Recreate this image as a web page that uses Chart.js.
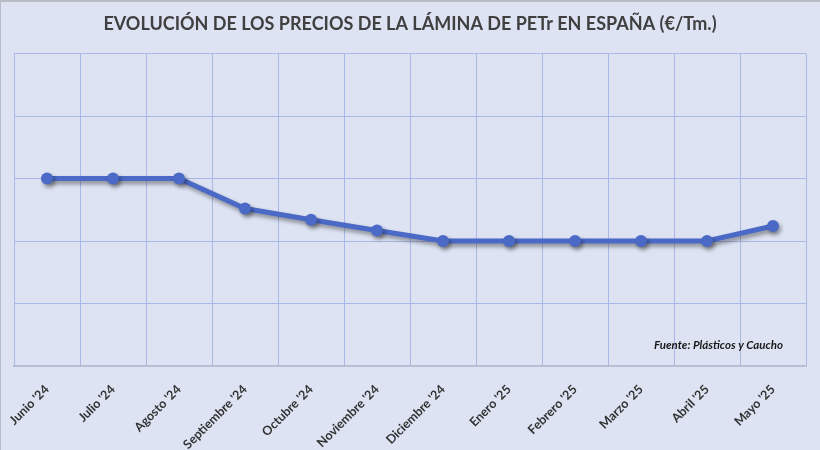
<!DOCTYPE html>
<html>
<head>
<meta charset="utf-8">
<script src="https://cdn.jsdelivr.net/npm/chart.js@4/dist/chart.umd.min.js"></script>
<style>
  html, body { margin: 0; padding: 0; background: #dde3f3; }
  #wrap { width: 820px; height: 450px; }
</style>
</head>
<body>
<div id="wrap"><canvas id="line-chart" width="820" height="450"></canvas></div>
<script>
const meses = ["Junio '24", "Julio '24", "Agosto '24", "Septiembre '24", "Octubre '24", "Noviembre '24",
  "Diciembre '24", "Enero '25", "Febrero '25", "Marzo '25", "Abril '25", "Mayo '25"]
// la imagen no trae escala en el eje Y: valores relativos a las 5 divisiones de la rejilla
const precios = [3, 3, 3, 2.52, 2.34, 2.17, 2, 2, 2, 2, 2, 2.24]
const escala_min = 0
const escala_max = 5

const fondo = {
  id: 'fondo',
  beforeDraw(chart) {
    const ctx = chart.ctx
    ctx.save()
    ctx.fillStyle = '#dde3f3'
    ctx.fillRect(0, 0, chart.width, chart.height)
    ctx.fillStyle = '#b9bcc4'
    ctx.fillRect(0, 0, chart.width, 2)
    ctx.fillRect(0, 0, 1, chart.height)
    ctx.restore()
  }
}

const sombra = {
  id: 'sombra',
  beforeDatasetDraw(chart) {
    const ctx = chart.ctx
    ctx.save()
    ctx.shadowColor = 'rgba(0, 0, 0, 0.4)'
    ctx.shadowBlur = 4
    ctx.shadowOffsetX = 2
    ctx.shadowOffsetY = 3
  },
  afterDatasetDraw(chart) {
    chart.ctx.restore()
  }
}

const fuente = {
  id: 'fuente',
  afterDraw(chart) {
    const ctx = chart.ctx
    const area = chart.chartArea
    ctx.save()
    ctx.font = 'italic bold 11.5px Lato'
    ctx.fillStyle = '#1a1a1a'
    ctx.textAlign = 'right'
    ctx.textBaseline = 'middle'
    ctx.fillText('Fuente: Plásticos y Caucho', area.right - 23, area.bottom - 21)
    ctx.restore()
  }
}

new Chart(document.getElementById("line-chart"), {
  type: 'line',
  data: {
    labels: meses,
    datasets: [
      {
        label: "Precio",
        data: precios,
        borderColor: "#4b69c6",
        backgroundColor: "#4b69c6",
        borderWidth: 5,
        pointRadius: 6,
        pointBorderWidth: 0,
        pointHoverRadius: 6,
        tension: 0
      }
    ]
  },
  options: {
    responsive: false,
    animation: false,
    events: [],
    layout: { padding: { left: 14, right: 14, top: 0, bottom: 0 } },
    plugins: {
      legend: { display: false },
      tooltip: { enabled: false },
      title: {
        display: true,
        text: 'EVOLUCIÓN DE LOS PRECIOS DE LA LÁMINA DE PETr EN ESPAÑA (€/Tm.)',
        color: '#404040',
        font: { family: 'Lato', size: 18, weight: 'bold' },
        padding: { top: 13, bottom: 19 }
      }
    },
    scales: {
      x: {
        offset: true,
        afterFit(scale) {
          scale.height = 84
          scale.paddingLeft = 0
          scale.paddingRight = 0
        },
        grid: { color: '#a9b8e6', lineWidth: 1, offset: true, drawTicks: false },
        border: { color: '#b8bfd4', width: 2 },
        ticks: {
          color: '#333333',
          font: { family: 'Lato', size: 12.5, weight: 'bold' },
          minRotation: 45,
          maxRotation: 45,
          padding: 16
        }
      },
      y: {
        min: escala_min,
        max: escala_max,
        ticks: { display: false, stepSize: 1 },
        grid: { color: '#a9b8e6', lineWidth: 1, drawTicks: false },
        border: { color: '#a9b8e6' }
      }
    }
  },
  plugins: [fondo, sombra, fuente]
});
</script>
</body>
</html>
